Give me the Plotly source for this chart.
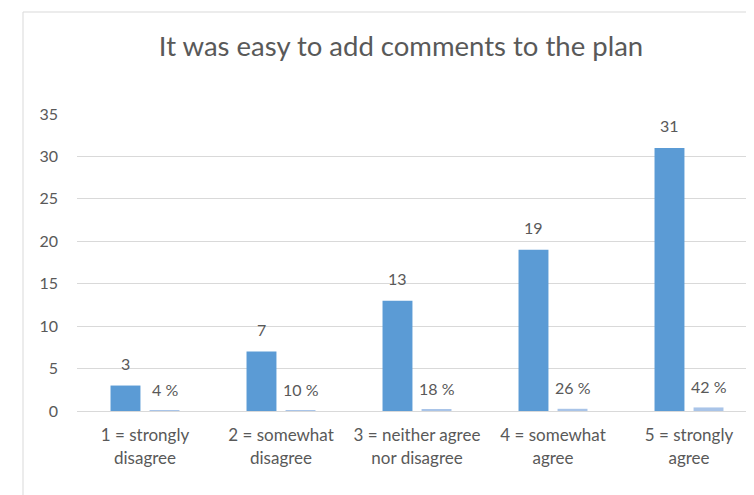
import plotly.graph_objects as go

categories = ["1 = strongly<br>disagree", "2 = somewhat<br>disagree", "3 = neither agree<br>nor disagree",
              "4 = somewhat<br>agree", "5 = strongly<br>agree"]
counts = [3, 7, 13, 19, 31]
percents = [0.04, 0.10, 0.18, 0.26, 0.42]
percent_labels = ["4 %", "10 %", "18 %", "26 %", "42 %"]
yticks = [0, 5, 10, 15, 20, 25, 30, 35]

# page body adds an 8px offset; figure coordinates compensate for it
W, H = 754, 495
L, R, T, B = 69, 0, 106, 92
pw, ph = W - L - R, H - T - B

TXT = "#595959"
FONT = "Lato"
xs = list(range(len(categories)))

fig = go.Figure()
fig.add_trace(go.Bar(x=xs, y=counts, marker=dict(color="#5b9bd5", line=dict(width=0)), name="Count"))
fig.add_trace(go.Bar(x=xs, y=percents, marker=dict(color="#a9c4e8", line=dict(width=0)), name="Percent"))

slot = 0.287
for i, (c, p, pl) in enumerate(zip(counts, percents, percent_labels)):
    fig.add_annotation(x=i - slot / 2, y=c, text=str(c), showarrow=False, yanchor="middle",
                       yshift=22, font=dict(family=FONT, size=16, color=TXT), xref="x", yref="y")
    fig.add_annotation(x=i + slot / 2, y=p, text=pl, showarrow=False, yanchor="middle",
                       yshift=21, font=dict(family=FONT, size=16, color=TXT), xref="x", yref="y")

# outer chart frame
fig.add_shape(type="rect", xref="paper", yref="paper",
              x0=(15 - L) / pw, x1=1.05, y0=-0.4, y1=1 + (T - 4) / ph,
              line=dict(color="#d9d9d9", width=1), fillcolor="rgba(0,0,0,0)", layer="below")

fig.update_layout(
    width=W, height=H,
    margin=dict(l=L, r=R, t=T, b=B, autoexpand=False),
    paper_bgcolor="white", plot_bgcolor="white",
    barmode="group", bargap=0.426, bargroupgap=0.233,
    showlegend=False,
    title=dict(text="It was easy to add comments to the plan", x=393 / W, xanchor="center",
               y=1 - 38 / H, yanchor="middle",
               font=dict(family=FONT, size=27.5, color=TXT)),
    font=dict(family=FONT, color=TXT, size=16),
)
fig.update_xaxes(range=[-0.5, -0.5 + pw / 136], tickvals=xs, ticktext=categories,
                 showgrid=False, showline=True, linecolor="#d9d9d9", linewidth=1,
                 ticks="", ticklabelstandoff=9,
                 tickfont=dict(family=FONT, size=17, color=TXT), zeroline=False)
fig.update_yaxes(range=[0, 35], tickvals=yticks, showgrid=True, gridcolor="#d9d9d9", gridwidth=1,
                 zeroline=False, showline=False, ticks="", ticklabelstandoff=18,
                 tickfont=dict(family=FONT, size=16, color=TXT))

fig.write_html("out.html")
